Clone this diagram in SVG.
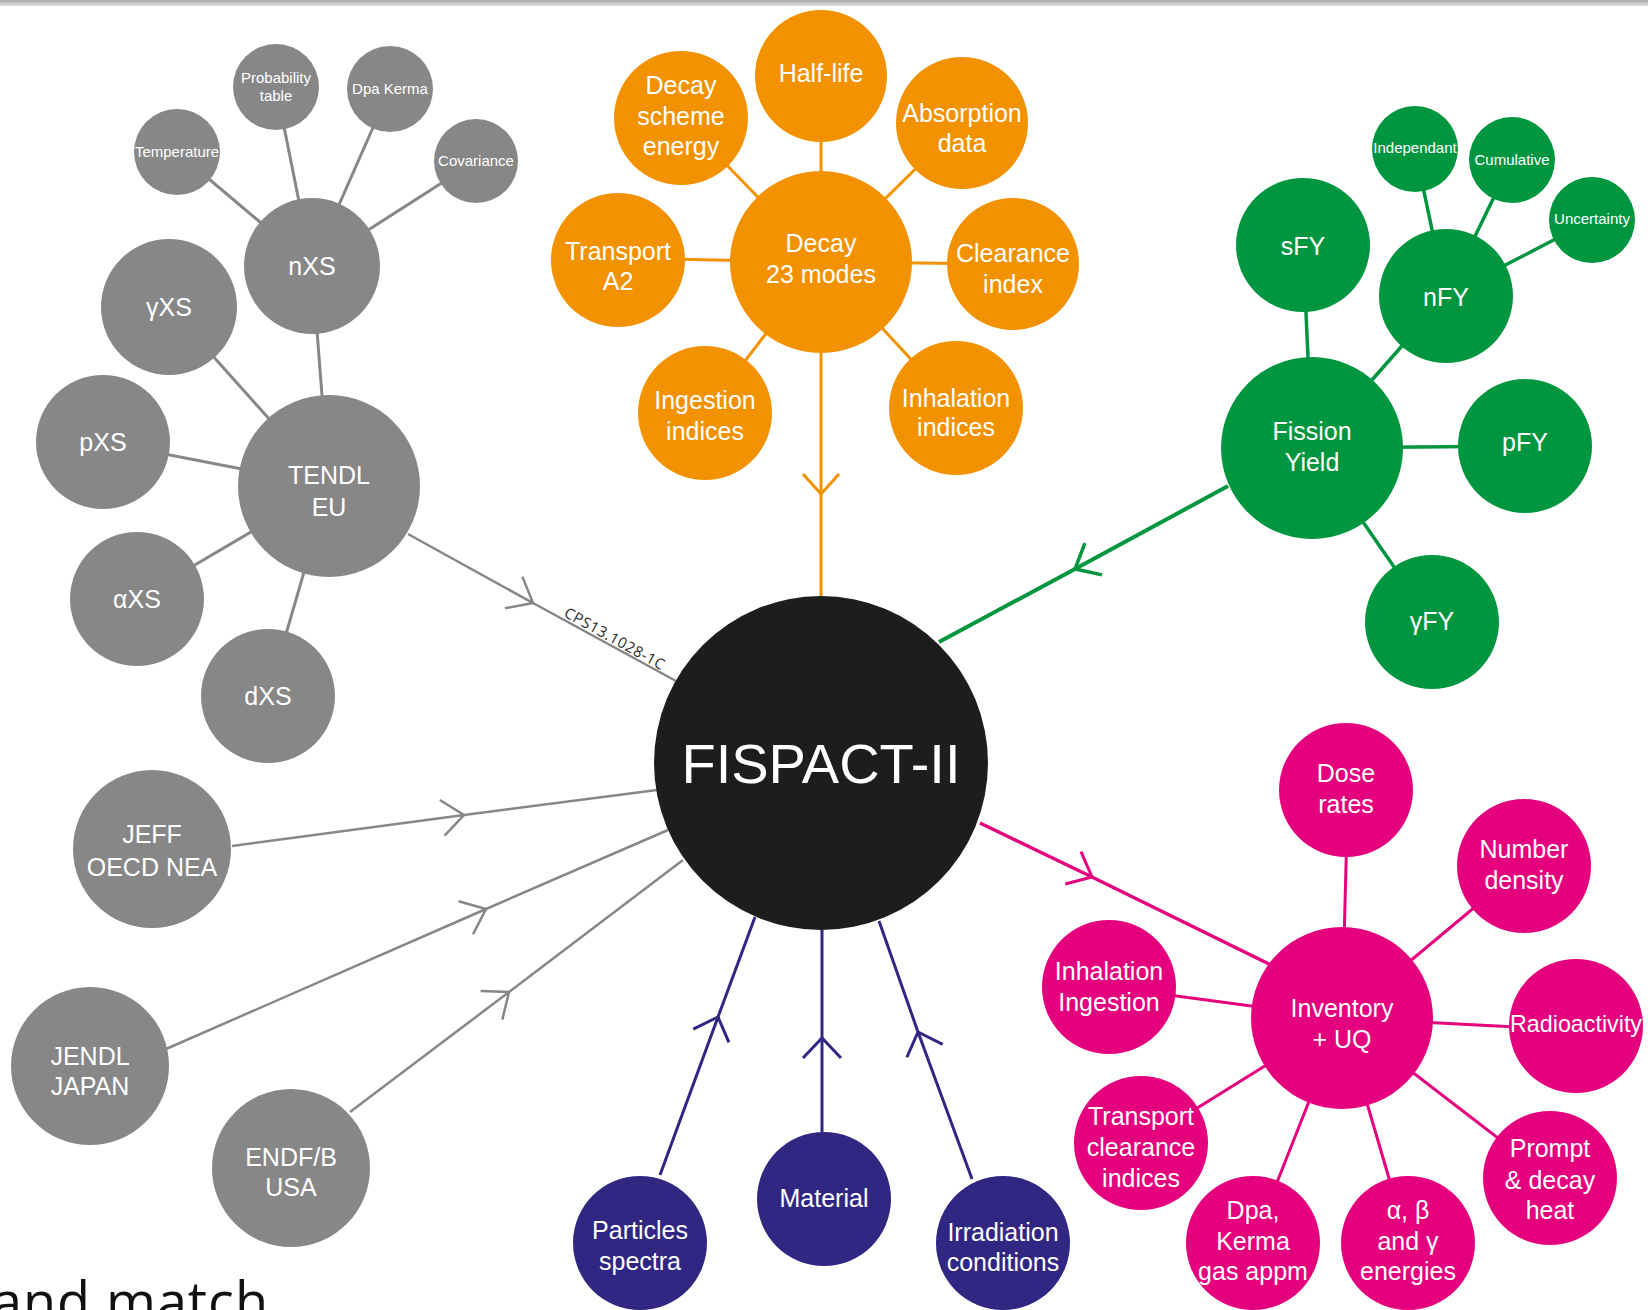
<svg xmlns="http://www.w3.org/2000/svg" width="1648" height="1310" viewBox="0 0 1648 1310">
<style>
.t{font-family:"Liberation Sans",Arial,sans-serif;fill:#ffffff;text-anchor:middle}
.s15{font-size:15px}
.s25{font-size:25px}
.gray{fill:#878787}
.orange{fill:#f39200}
.green{fill:#009640}
.pink{fill:#e5007d}
.blue{fill:#312783}
.lg{stroke:#878787;stroke-width:3;fill:none}
.lo{stroke:#f39200;stroke-width:3;fill:none}
.lgr{stroke:#009640;stroke-width:3.5;fill:none}
.lp{stroke:#e5007d;stroke-width:3;fill:none}
.hg{stroke:#878787;stroke-width:2.5;fill:none;marker-mid:url(#chev-g)}
.ho{stroke:#f39200;stroke-width:3;fill:none;marker-mid:url(#chev-o)}
.hgr{stroke:#009640;stroke-width:4;fill:none;marker-mid:url(#chev-gr)}
.hp{stroke:#e5007d;stroke-width:3.5;fill:none;marker-mid:url(#chev-p)}
.hb{stroke:#312783;stroke-width:3;fill:none;marker-mid:url(#chev-b)}
</style>
<defs>
<linearGradient id="topbar" x1="0" y1="0" x2="0" y2="1">
<stop offset="0" stop-color="#a9a9a9"/>
<stop offset="1" stop-color="#e2e2e2"/>
</linearGradient>
<marker id="chev-g" markerUnits="userSpaceOnUse" viewBox="-26 -22 30 44" refX="0" refY="0" markerWidth="30" markerHeight="44" orient="auto" overflow="visible"><path d="M-22,-18 L0,0 L-22,18" fill="none" stroke="#878787" stroke-width="2.5"/></marker>
<marker id="chev-o" markerUnits="userSpaceOnUse" viewBox="-26 -22 30 44" refX="0" refY="0" markerWidth="30" markerHeight="44" orient="auto" overflow="visible"><path d="M-20,-18 L0,0 L-20,18" fill="none" stroke="#f39200" stroke-width="3"/></marker>
<marker id="chev-gr" markerUnits="userSpaceOnUse" viewBox="-26 -22 30 44" refX="0" refY="0" markerWidth="30" markerHeight="44" orient="auto" overflow="visible"><path d="M-21,-18 L0,0 L-21,18" fill="none" stroke="#009640" stroke-width="3.5"/></marker>
<marker id="chev-p" markerUnits="userSpaceOnUse" viewBox="-26 -22 30 44" refX="0" refY="0" markerWidth="30" markerHeight="44" orient="auto" overflow="visible"><path d="M-21,-18 L0,0 L-21,18" fill="none" stroke="#e5007d" stroke-width="3"/></marker>
<marker id="chev-b" markerUnits="userSpaceOnUse" viewBox="-26 -22 30 44" refX="0" refY="0" markerWidth="30" markerHeight="44" orient="auto" overflow="visible"><path d="M-20,-19 L0,0 L-20,19" fill="none" stroke="#312783" stroke-width="3"/></marker>
</defs>

<rect x="0" y="0" width="1648" height="6" fill="url(#topbar)"/>

<g id="connectors">
<!-- gray spokes -->
<line class="lg" x1="329" y1="486" x2="312" y2="266"/>
<line class="lg" x1="329" y1="486" x2="169" y2="307"/>
<line class="lg" x1="329" y1="486" x2="103" y2="442"/>
<line class="lg" x1="329" y1="486" x2="137" y2="599"/>
<line class="lg" x1="329" y1="486" x2="268" y2="696"/>
<line class="lg" x1="312" y1="266" x2="177" y2="152"/>
<line class="lg" x1="312" y1="266" x2="276" y2="87"/>
<line class="lg" x1="312" y1="266" x2="390" y2="89"/>
<line class="lg" x1="312" y1="266" x2="476" y2="161"/>
<!-- orange spokes -->
<line class="lo" x1="821" y1="262" x2="821" y2="76"/>
<line class="lo" x1="821" y1="262" x2="681" y2="118"/>
<line class="lo" x1="821" y1="262" x2="962" y2="123"/>
<line class="lo" x1="821" y1="262" x2="618" y2="258"/>
<line class="lo" x1="821" y1="262" x2="1013" y2="264"/>
<line class="lo" x1="821" y1="262" x2="705" y2="413"/>
<line class="lo" x1="821" y1="262" x2="956" y2="408"/>
<!-- green spokes -->
<line class="lgr" x1="1312" y1="448" x2="1303" y2="245"/>
<line class="lgr" x1="1312" y1="448" x2="1446" y2="296"/>
<line class="lgr" x1="1312" y1="448" x2="1525" y2="446"/>
<line class="lgr" x1="1312" y1="448" x2="1432" y2="622"/>
<line class="lgr" x1="1446" y1="296" x2="1415" y2="149"/>
<line class="lgr" x1="1446" y1="296" x2="1512" y2="160"/>
<line class="lgr" x1="1446" y1="296" x2="1592" y2="220"/>
<!-- pink spokes -->
<line class="lp" x1="1342" y1="1018" x2="1348" y2="790"/>
<line class="lp" x1="1342" y1="1018" x2="1524" y2="866"/>
<line class="lp" x1="1342" y1="1018" x2="1109" y2="987"/>
<line class="lp" x1="1342" y1="1018" x2="1576" y2="1030"/>
<line class="lp" x1="1342" y1="1018" x2="1141" y2="1143"/>
<line class="lp" x1="1342" y1="1018" x2="1550" y2="1178"/>
<line class="lp" x1="1342" y1="1018" x2="1253" y2="1243"/>
<line class="lp" x1="1342" y1="1018" x2="1408" y2="1243"/>
<!-- links into FISPACT-II -->
<polyline class="hg" points="408,534 533,603 676,681"/>
<polyline class="hg" points="232,846 464,815 657,790"/>
<polyline class="hg" points="166,1049 486,909 668,830"/>
<polyline class="hg" points="350,1112 509,992 683,860"/>
<polyline class="ho" points="821,353 821,494 821,596"/>
<polyline class="hgr" points="1228,486 1075,569 939,642"/>
<polyline class="hp" points="980,823 1092,877 1269,964"/>
<polyline class="hb" points="660,1175 718,1017 755,917"/>
<polyline class="hb" points="822,1132 822,1038 822,930"/>
<polyline class="hb" points="972,1179 918,1032 879,921"/>
<text transform="translate(563,616) rotate(29)" font-family="Open Sans, Liberation Sans, sans-serif" font-size="15" fill="#2b2b2b" textLength="112">CPS13.1028-1C</text>
</g>

<!-- gray nodes -->
<g id="n-prob"><circle class="gray" cx="276" cy="87" r="43"/><text class="t s15" x="276" y="83">Probability</text><text class="t s15" x="276" y="101">table</text></g>
<g id="n-dpak"><circle class="gray" cx="390" cy="89" r="43"/><text class="t s15" x="390" y="94">Dpa Kerma</text></g>
<g id="n-temp"><circle class="gray" cx="177" cy="152" r="43"/><text class="t s15" x="177" y="157">Temperature</text></g>
<g id="n-cov"><circle class="gray" cx="476" cy="161" r="42"/><text class="t s15" x="476" y="166">Covariance</text></g>
<g id="n-nxs"><circle class="gray" cx="312" cy="266" r="68"/><text class="t s25" x="312" y="275">nXS</text></g>
<g id="n-gxs"><circle class="gray" cx="169" cy="307" r="68"/><text class="t s25" x="169" y="316">γXS</text></g>
<g id="n-pxs"><circle class="gray" cx="103" cy="442" r="67"/><text class="t s25" x="103" y="451">pXS</text></g>
<g id="n-tendl"><circle class="gray" cx="329" cy="486" r="91"/><text class="t s25" x="329" y="484">TENDL</text><text class="t s25" x="329" y="516">EU</text></g>
<g id="n-axs"><circle class="gray" cx="137" cy="599" r="67"/><text class="t s25" x="137" y="608">αXS</text></g>
<g id="n-dxs"><circle class="gray" cx="268" cy="696" r="67"/><text class="t s25" x="268" y="705">dXS</text></g>
<g id="n-jeff"><circle class="gray" cx="152" cy="849" r="79"/><text class="t s25" x="152" y="843">JEFF</text><text class="t s25" x="152" y="876">OECD NEA</text></g>
<g id="n-jendl"><circle class="gray" cx="90" cy="1066" r="79"/><text class="t s25" x="90" y="1065">JENDL</text><text class="t s25" x="90" y="1095">JAPAN</text></g>
<g id="n-endf"><circle class="gray" cx="291" cy="1168" r="79"/><text class="t s25" x="291" y="1166">ENDF/B</text><text class="t s25" x="291" y="1196">USA</text></g>

<!-- orange nodes -->
<g id="n-halflife"><circle class="orange" cx="821" cy="76" r="66"/><text class="t s25" x="821" y="82">Half-life</text></g>
<g id="n-dse"><circle class="orange" cx="681" cy="118" r="67"/><text class="t s25" x="681" y="94">Decay</text><text class="t s25" x="681" y="125">scheme</text><text class="t s25" x="681" y="155">energy</text></g>
<g id="n-abs"><circle class="orange" cx="962" cy="123" r="66"/><text class="t s25" x="962" y="122">Absorption</text><text class="t s25" x="962" y="152">data</text></g>
<g id="n-tra2"><circle class="orange" cx="618" cy="260" r="67"/><text class="t s25" x="618" y="260">Transport</text><text class="t s25" x="618" y="290">A2</text></g>
<g id="n-decay"><circle class="orange" cx="821" cy="262" r="91"/><text class="t s25" x="821" y="252">Decay</text><text class="t s25" x="821" y="283">23 modes</text></g>
<g id="n-clear"><circle class="orange" cx="1013" cy="264" r="66"/><text class="t s25" x="1013" y="262">Clearance</text><text class="t s25" x="1013" y="293">index</text></g>
<g id="n-ing"><circle class="orange" cx="705" cy="413" r="67"/><text class="t s25" x="705" y="409">Ingestion</text><text class="t s25" x="705" y="440">indices</text></g>
<g id="n-inh"><circle class="orange" cx="956" cy="408" r="67"/><text class="t s25" x="956" y="407">Inhalation</text><text class="t s25" x="956" y="436">indices</text></g>

<!-- green nodes -->
<g id="n-sfy"><circle class="green" cx="1303" cy="245" r="67"/><text class="t s25" x="1303" y="255">sFY</text></g>
<g id="n-ind"><circle class="green" cx="1415" cy="149" r="43"/><text class="t s15" x="1415" y="153">Independant</text></g>
<g id="n-cum"><circle class="green" cx="1512" cy="160" r="43"/><text class="t s15" x="1512" y="165">Cumulative</text></g>
<g id="n-unc"><circle class="green" cx="1592" cy="220" r="43"/><text class="t s15" x="1592" y="224">Uncertainty</text></g>
<g id="n-nfy"><circle class="green" cx="1446" cy="296" r="67"/><text class="t s25" x="1446" y="306">nFY</text></g>
<g id="n-fy"><circle class="green" cx="1312" cy="448" r="91"/><text class="t s25" x="1312" y="440">Fission</text><text class="t s25" x="1312" y="471">Yield</text></g>
<g id="n-pfy"><circle class="green" cx="1525" cy="446" r="67"/><text class="t s25" x="1525" y="451">pFY</text></g>
<g id="n-gfy"><circle class="green" cx="1432" cy="622" r="67"/><text class="t s25" x="1432" y="630">γFY</text></g>

<!-- pink nodes -->
<g id="n-dose"><circle class="pink" cx="1346" cy="790" r="67"/><text class="t s25" x="1346" y="782">Dose</text><text class="t s25" x="1346" y="813">rates</text></g>
<g id="n-nd"><circle class="pink" cx="1524" cy="866" r="67"/><text class="t s25" x="1524" y="858">Number</text><text class="t s25" x="1524" y="889">density</text></g>
<g id="n-inhing"><circle class="pink" cx="1109" cy="987" r="67"/><text class="t s25" x="1109" y="980">Inhalation</text><text class="t s25" x="1109" y="1011">Ingestion</text></g>
<g id="n-inv"><circle class="pink" cx="1342" cy="1018" r="91"/><text class="t s25" x="1342" y="1017">Inventory</text><text class="t s25" x="1342" y="1048">+ UQ</text></g>
<g id="n-rad"><circle class="pink" cx="1576" cy="1026" r="67"/><text class="t" font-size="24" x="1576" y="1032" textLength="132" lengthAdjust="spacingAndGlyphs">Radioactivity</text></g>
<g id="n-tci"><circle class="pink" cx="1141" cy="1143" r="67"/><text class="t s25" x="1141" y="1125">Transport</text><text class="t s25" x="1141" y="1156">clearance</text><text class="t s25" x="1141" y="1187">indices</text></g>
<g id="n-prompt"><circle class="pink" cx="1550" cy="1178" r="67"/><text class="t s25" x="1550" y="1157">Prompt</text><text class="t s25" x="1550" y="1189">&amp; decay</text><text class="t s25" x="1550" y="1219">heat</text></g>
<g id="n-dpa"><circle class="pink" cx="1253" cy="1243" r="67"/><text class="t s25" x="1253" y="1219">Dpa,</text><text class="t s25" x="1253" y="1250">Kerma</text><text class="t s25" x="1253" y="1280">gas appm</text></g>
<g id="n-abg"><circle class="pink" cx="1408" cy="1243" r="67"/><text class="t s25" x="1408" y="1219">α, β</text><text class="t s25" x="1408" y="1250">and γ</text><text class="t s25" x="1408" y="1280">energies</text></g>

<!-- blue nodes -->
<g id="n-part"><circle class="blue" cx="640" cy="1243" r="67"/><text class="t s25" x="640" y="1239">Particles</text><text class="t s25" x="640" y="1270">spectra</text></g>
<g id="n-mat"><circle class="blue" cx="824" cy="1199" r="67"/><text class="t s25" x="824" y="1207">Material</text></g>
<g id="n-irr"><circle class="blue" cx="1003" cy="1243" r="67"/><text class="t s25" x="1003" y="1241">Irradiation</text><text class="t s25" x="1003" y="1271">conditions</text></g>

<!-- central node -->
<g id="n-fispact"><circle cx="821" cy="763" r="167" fill="#1d1d1b"/><text class="t" font-size="56" x="821" y="783">FISPACT-II</text></g>

<text x="-8" y="1321" font-family="Open Sans, Noto Sans, sans-serif" font-size="54" fill="#111111" textLength="276">and match</text>
</svg>
